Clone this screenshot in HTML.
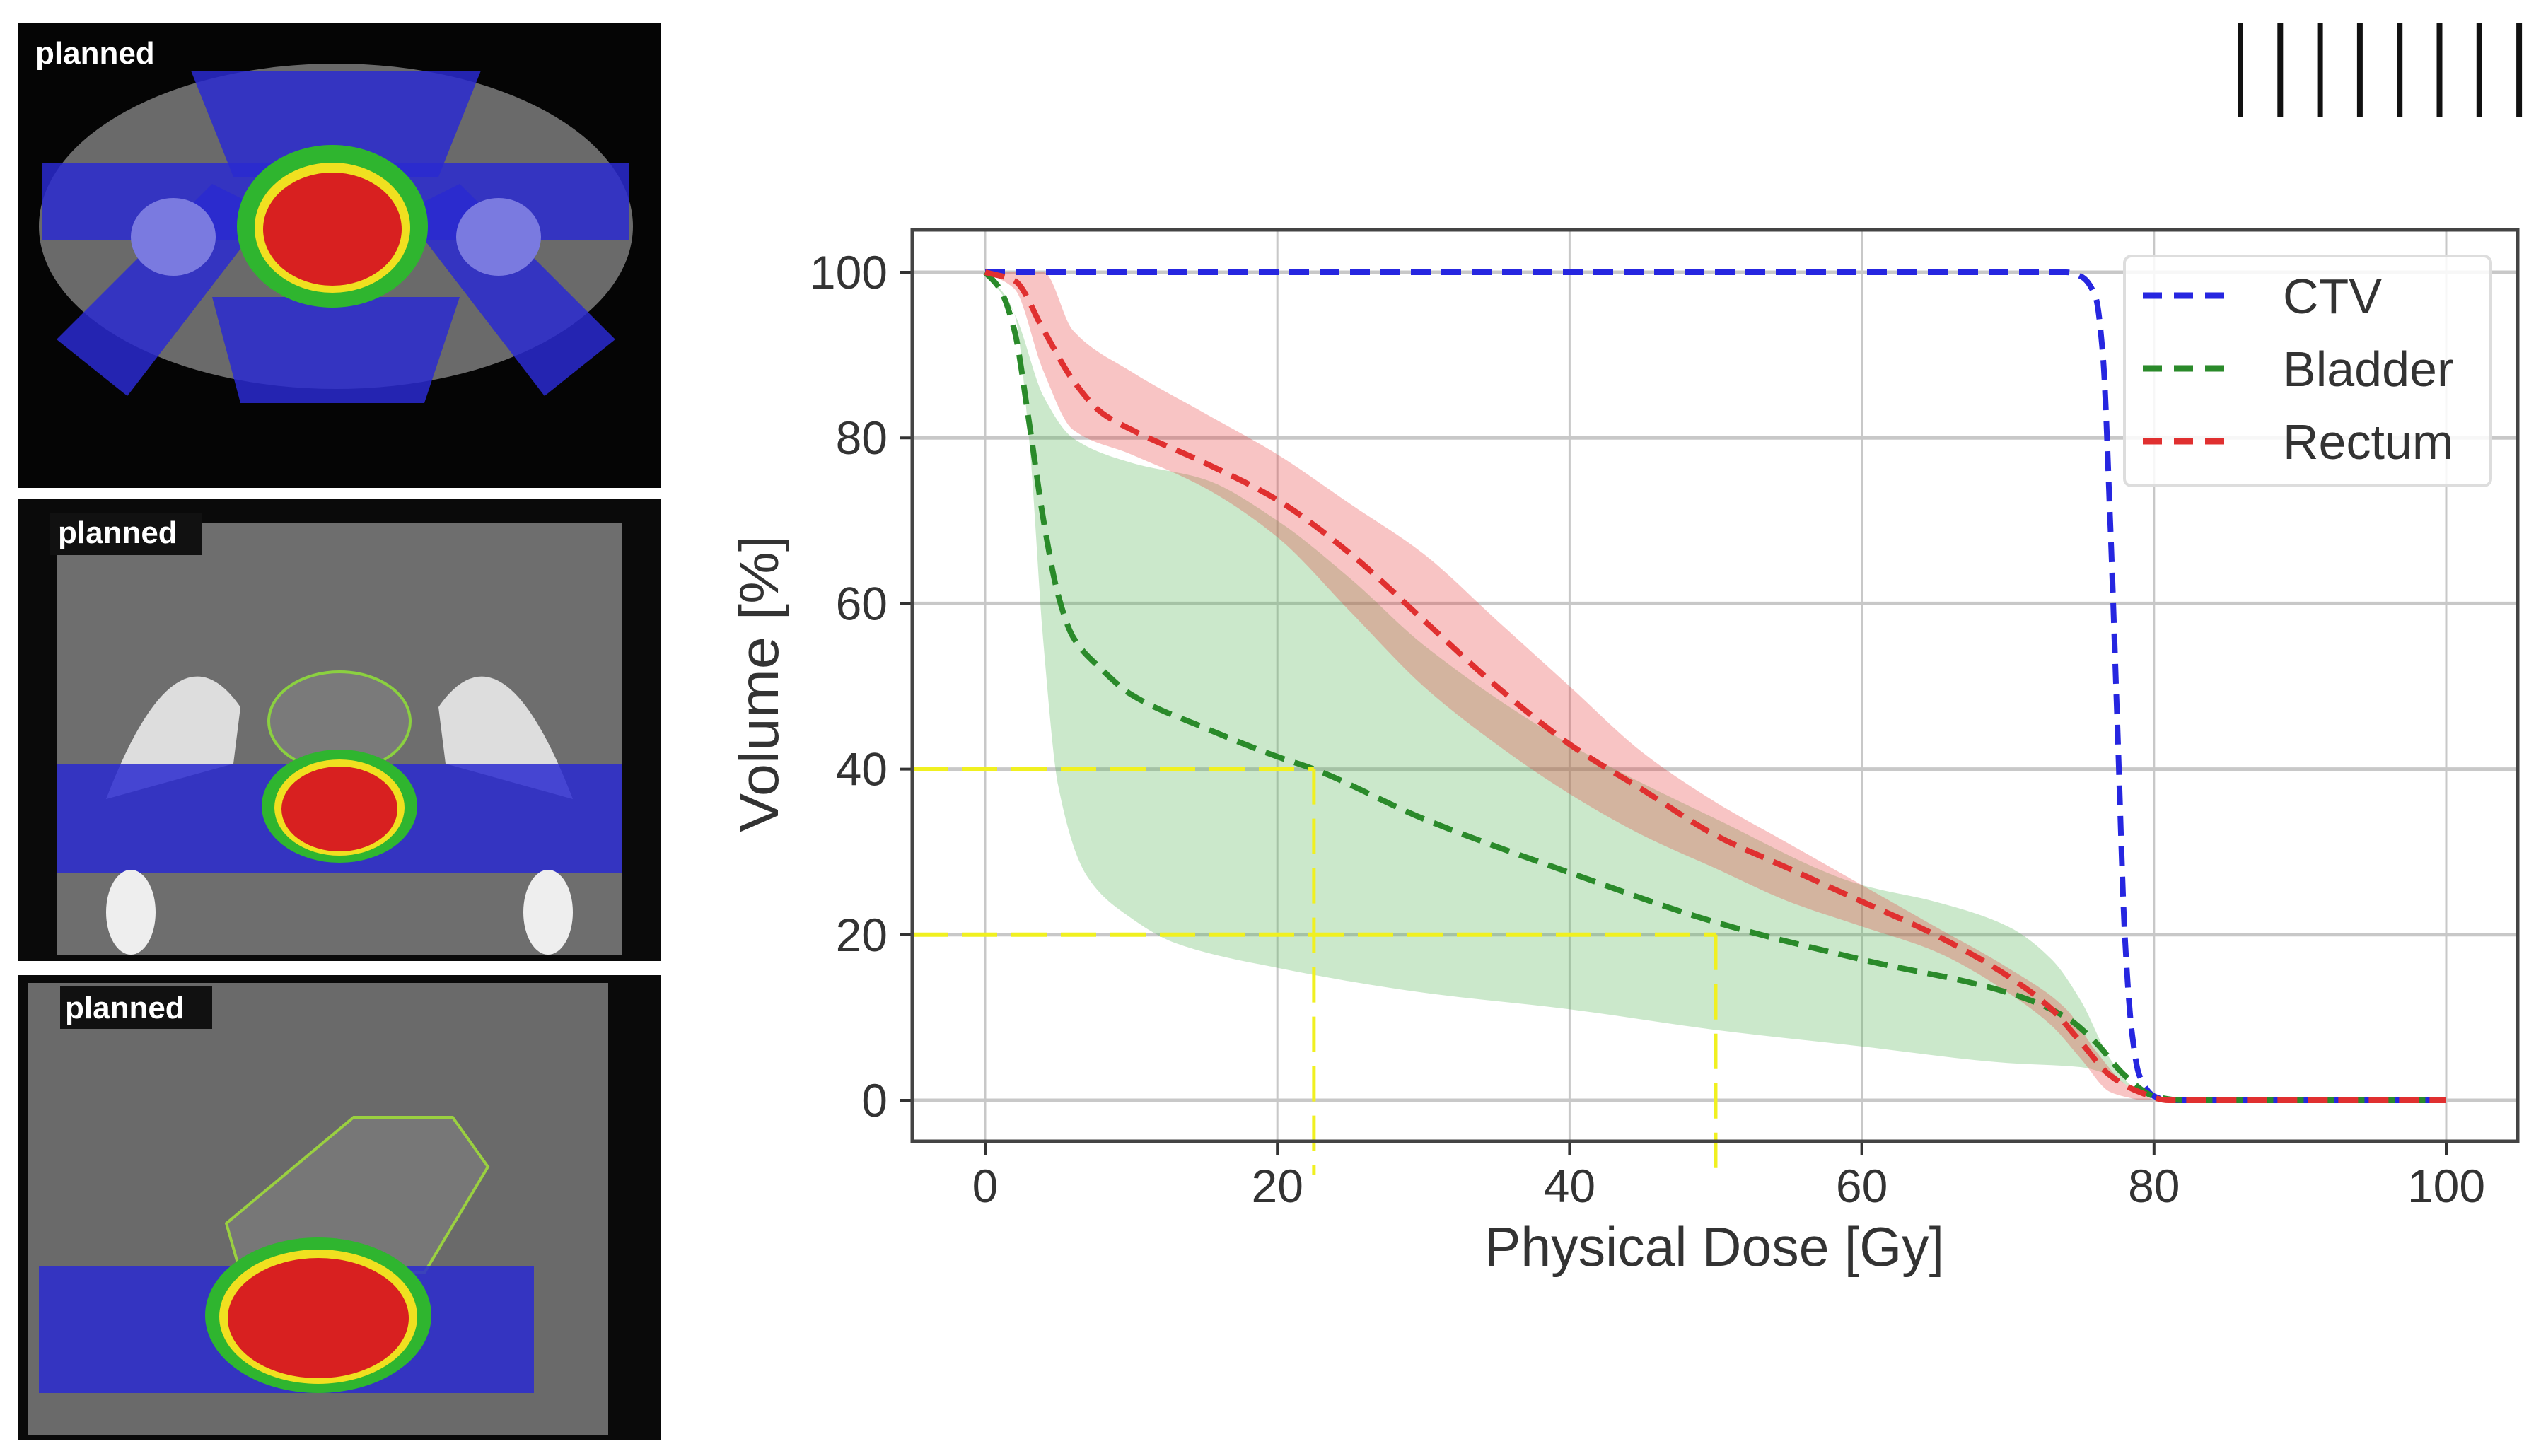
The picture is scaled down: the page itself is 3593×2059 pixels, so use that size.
<!DOCTYPE html>
<html><head><meta charset="utf-8"><style>
html,body{margin:0;padding:0;background:#fff;}
svg{display:block;font-family:"Liberation Sans","DejaVu Sans",sans-serif;}
</style></head><body>
<svg id="fig" width="3593" height="2059" viewBox="0 0 3593 2059" xmlns="http://www.w3.org/2000/svg">
<defs>
<clipPath id="c1"><rect x="25" y="32" width="910" height="658"/></clipPath>
<clipPath id="c2"><rect x="25" y="706" width="910" height="653"/></clipPath>
<clipPath id="c3"><rect x="25" y="1379" width="910" height="658"/></clipPath>
<clipPath id="plotclip"><rect x="1290" y="325" width="2270" height="1290"/></clipPath>
</defs>
<!-- Panel 1 axial -->
<g clip-path="url(#c1)">
<rect x="25" y="32" width="910" height="658" fill="#050505"/>
<ellipse cx="475" cy="320" rx="420" ry="230" fill="#6a6a6a"/>
<rect x="60" y="230" width="830" height="110" fill="#2a2ad0" opacity="0.85"/>
<polygon points="80,480 300,260 380,300 180,560" fill="#2a2ad0" opacity="0.85"/>
<polygon points="870,480 650,260 570,300 770,560" fill="#2a2ad0" opacity="0.85"/>
<polygon points="270,100 680,100 620,250 330,250" fill="#2a2ad0" opacity="0.85"/>
<polygon points="300,420 650,420 600,570 340,570" fill="#2a2ad0" opacity="0.85"/>
<ellipse cx="245" cy="335" rx="60" ry="55" fill="#7a7ae0"/>
<ellipse cx="705" cy="335" rx="60" ry="55" fill="#7a7ae0"/>
<ellipse cx="470" cy="320" rx="135" ry="115" fill="#2fb52f"/>
<ellipse cx="470" cy="322" rx="110" ry="92" fill="#f0e020"/>
<ellipse cx="470" cy="324" rx="98" ry="80" fill="#d82020"/>
<text x="50" y="90" font-size="44" font-weight="bold" fill="#fff">planned</text>
</g>
<!-- Panel 2 coronal -->
<g clip-path="url(#c2)">
<rect x="25" y="706" width="910" height="653" fill="#0a0a0a"/>
<rect x="80" y="740" width="800" height="610" fill="#6e6e6e"/>
<path d="M150 1130 Q250 870 340 1000 L330 1080 Z" fill="#ddd"/>
<path d="M810 1130 Q710 870 620 1000 L630 1080 Z" fill="#ddd"/>
<ellipse cx="480" cy="1020" rx="100" ry="70" fill="#7a7a7a" stroke="#8bd040" stroke-width="4"/>
<rect x="80" y="1080" width="800" height="155" fill="#2a2ad0" opacity="0.85"/>
<ellipse cx="480" cy="1140" rx="110" ry="80" fill="#2fb52f"/>
<ellipse cx="480" cy="1142" rx="92" ry="68" fill="#f0e020"/>
<ellipse cx="480" cy="1144" rx="82" ry="60" fill="#d82020"/>
<ellipse cx="185" cy="1290" rx="35" ry="60" fill="#eee"/>
<ellipse cx="775" cy="1290" rx="35" ry="60" fill="#eee"/>
<rect x="70" y="725" width="215" height="60" fill="#111"/>
<text x="82" y="768" font-size="44" font-weight="bold" fill="#fff">planned</text>
</g>
<!-- Panel 3 sagittal -->
<g clip-path="url(#c3)">
<rect x="25" y="1379" width="910" height="658" fill="#0a0a0a"/>
<rect x="40" y="1390" width="820" height="640" fill="#6a6a6a"/>
<polygon points="320,1730 500,1580 640,1580 690,1650 600,1800 340,1800" fill="#777" stroke="#9ad040" stroke-width="4"/>
<rect x="55" y="1790" width="700" height="180" fill="#2a2ad0" opacity="0.85"/>
<ellipse cx="450" cy="1860" rx="160" ry="110" fill="#2fb52f"/>
<ellipse cx="450" cy="1862" rx="140" ry="95" fill="#f0e020"/>
<ellipse cx="450" cy="1864" rx="128" ry="85" fill="#d82020"/>
<rect x="85" y="1395" width="215" height="60" fill="#111"/>
<text x="92" y="1440" font-size="44" font-weight="bold" fill="#fff">planned</text>
</g>
<g id="barcode"></g>
<g id="chart"></g>
</svg>
<script>
const xTicks = [0,20,40,60,80,100];
const yTicks = [0,20,40,60,80,100];
const ctvDose = [0,74,75,76,76.5,77,77.5,78,78.5,79,80,81,100];
const ctvVol  = [100,100,99.5,97,90,70,45,20,8,3,0.5,0,0];
const bladDose = [0,1,2,3,4,5,6,8,10,15,20,22.5,30,40,50,60,70,74,76,78,80,82,100];
const bladVol  = [100,98,93,82,70,61,56,52,49,45,41.5,40,34,27.5,21.5,17,13,10,7,3,0.5,0,0];
const bladUpDose = [0,2,4,6,10,15,20,25,30,40,50,60,65,70,73,75,77,79,81];
const bladUpVol  = [100,95,85,80,77,75,70,63,55,43,34,26,24,21,17,12,5,1,0];
const bladLoDose = [0,2,3,4,5,7,10,13,20,30,40,50,60,70,75,77,79,81];
const bladLoVol  = [100,95,80,55,38,27,22,19,16,13,11,8.5,6.5,4.5,4,3,1,0];
const recDose = [0,2,4,6,8,10,15,20,25,30,35,40,45,50,55,60,65,70,73,75,77,79,81,100];
const recVol  = [100,99,93,87,83,81,77,72.5,66,58,50,43,37.5,32,28,24,20,15,11,7,3,1,0,0];
const recUpDose = [0,4,6,10,15,20,25,30,35,40,45,50,55,60,65,70,74,76,78,80];
const recUpVol  = [100,100,93,88,83,78,72,66,58,50,42,36,31,26,21,16,11,6,2,0];
const recLoDose = [0,2,4,6,10,15,20,25,30,35,40,45,50,55,60,65,70,73,75,77,79];
const recLoVol  = [100,98,88,81,78,74,68,59,50,43,37,32,28,24,21,18,13,9,5,1,0];
const guideDose = [22.5,50];
const guideVol = [40,20];
const legendLabels = ["CTV","Bladder","Rectum"];
const legendColors = ["#2626e0","#2a8a2a","#e03030"];

const NS="http://www.w3.org/2000/svg";
const X0=1393, X1=3459, Y0=1556, Y1=385;
const FL=1290, FR=3560, FT=325, FB=1614;
function sx(v){return X0+(X1-X0)*v/100;}
function sy(v){return Y0+(Y1-Y0)*v/100;}
function mk(tag,attrs,parent){const e=document.createElementNS(NS,tag);for(const k in attrs)e.setAttribute(k,attrs[k]);parent.appendChild(e);return e;}
// monotone cubic (Fritsch-Carlson), works for x increasing or decreasing
function smooth(p){
  const n=p.length;
  if(n<2) return "";
  const dx=[],dy=[],m=[];
  for(let i=0;i<n-1;i++){dx[i]=p[i+1][0]-p[i][0];dy[i]=p[i+1][1]-p[i][1];m[i]=dx[i]===0?0:dy[i]/dx[i];}
  const t=[m[0]];
  for(let i=1;i<n-1;i++){
    if(m[i-1]*m[i]<=0) t[i]=0;
    else{const w1=2*dx[i]+dx[i-1],w2=dx[i]+2*dx[i-1];t[i]=(w1+w2)/(w1/m[i-1]+w2/m[i]);}
  }
  t[n-1]=m[n-2];
  let d="M"+p[0][0]+" "+p[0][1];
  for(let i=0;i<n-1;i++){
    const h=dx[i]/3;
    d+=" C"+(p[i][0]+h)+" "+(p[i][1]+t[i]*h)+" "+(p[i+1][0]-h)+" "+(p[i+1][1]-t[i+1]*h)+" "+p[i+1][0]+" "+p[i+1][1];
  }
  return d;
}
function pts(xs,ys){return xs.map((x,i)=>[sx(x),sy(ys[i])]);}
const bc=document.getElementById('barcode');
for(let i=0;i<8;i++){
  const l=mk('line',{x1:3168+i*56.3,x2:3168+i*56.3,y1:32,y2:165,stroke:'#111','stroke-width':8},bc);
  
  
}
const g=document.getElementById('chart');
xTicks.forEach(t=>{
  const l=mk('line',{x1:sx(t),x2:sx(t),y1:FT,y2:FB,stroke:'#c8c8c8','stroke-width':3},g);
  
  
  const tk=mk('line',{x1:sx(t),x2:sx(t),y1:FB,y2:FB+20,stroke:'#333','stroke-width':4},g);
  
  
  const tx=mk('text',{x:sx(t),y:1700,'font-size':66,'text-anchor':'middle',fill:'#333'},g);
  tx.textContent=t;
  
  
});
yTicks.forEach(t=>{
  const l=mk('line',{x1:FL,x2:FR,y1:sy(t),y2:sy(t),stroke:'#c8c8c8','stroke-width':5},g);
  
  
  const tk=mk('line',{x1:FL-18,x2:FL,y1:sy(t),y2:sy(t),stroke:'#333','stroke-width':4},g);
  
  
  const tx=mk('text',{x:FL-35,y:sy(t)+23,'font-size':66,'text-anchor':'end',fill:'#333'},g);
  tx.textContent=t;
  
  
});
const pg=mk('g',{'clip-path':'url(#plotclip)'},g);
function band(ux,uy,lx,ly,fill,op,name){
  const up=pts(ux,uy), lo=pts(lx,ly).reverse();
  let d=smooth(up)+" L"+lo[0][0]+" "+lo[0][1]+" "+smooth(lo).slice(1)+" Z";
  const p=mk('path',{d:d,fill:fill,'fill-opacity':op,stroke:'none'},pg);
  
  
}
band(bladUpDose,bladUpVol,bladLoDose,bladLoVol,'#5cb85c',0.32,'bladder-range-band');
band(recUpDose,recUpVol,recLoDose,recLoVol,'#e83a3a',0.3,'rectum-range-band');
function line(xs,ys,color,name){
  const p=mk('path',{d:smooth(pts(xs,ys)),fill:'none',stroke:color,'stroke-width':8,'stroke-dasharray':'28 15'},pg);
  
  
}
line(ctvDose,ctvVol,legendColors[0],'ctv-line');
line(bladDose,bladVol,legendColors[1],'bladder-line');
line(recDose,recVol,legendColors[2],'rectum-line');
guideDose.forEach((d,i)=>{
  const h=mk('line',{x1:FL,x2:sx(d),y1:sy(guideVol[i]),y2:sy(guideVol[i]),stroke:'#f0f020','stroke-width':6,'stroke-dasharray':'50 20'},g);
  
  
  const v=mk('line',{x1:sx(d),x2:sx(d),y1:sy(guideVol[i]),y2:1662,stroke:'#f0f020','stroke-width':5,'stroke-dasharray':'50 20'},g);
  
  
});
const fr=mk('rect',{x:FL,y:FT,width:FR-FL,height:FB-FT,fill:'none',stroke:'#444','stroke-width':5},g);


const lb=mk('rect',{x:3004,y:362,width:518,height:325,rx:10,fill:'#fff','fill-opacity':0.85,stroke:'#ddd','stroke-width':4},g);


legendLabels.forEach((s,i)=>{
  const y=418+i*103;
  const l=mk('line',{x1:3030,x2:3155,y1:y,y2:y,stroke:legendColors[i],'stroke-width':9,'stroke-dasharray':'27 17'},g);
  
  
  const t=mk('text',{x:3228,y:y+25,'font-size':70,fill:'#333'},g);
  t.textContent=s;
  
  
});
const xl=mk('text',{x:2424,y:1790,'font-size':78,'text-anchor':'middle',fill:'#333',textLength:650,lengthAdjust:'spacingAndGlyphs'},g);
xl.textContent='Physical Dose [Gy]';


const yl=mk('text',{x:0,y:0,'font-size':78,'text-anchor':'middle',fill:'#333',transform:'translate(1100,967) rotate(-90)',textLength:420,lengthAdjust:'spacingAndGlyphs'},g);
yl.textContent='Volume [%]';


</script>
</body></html>
